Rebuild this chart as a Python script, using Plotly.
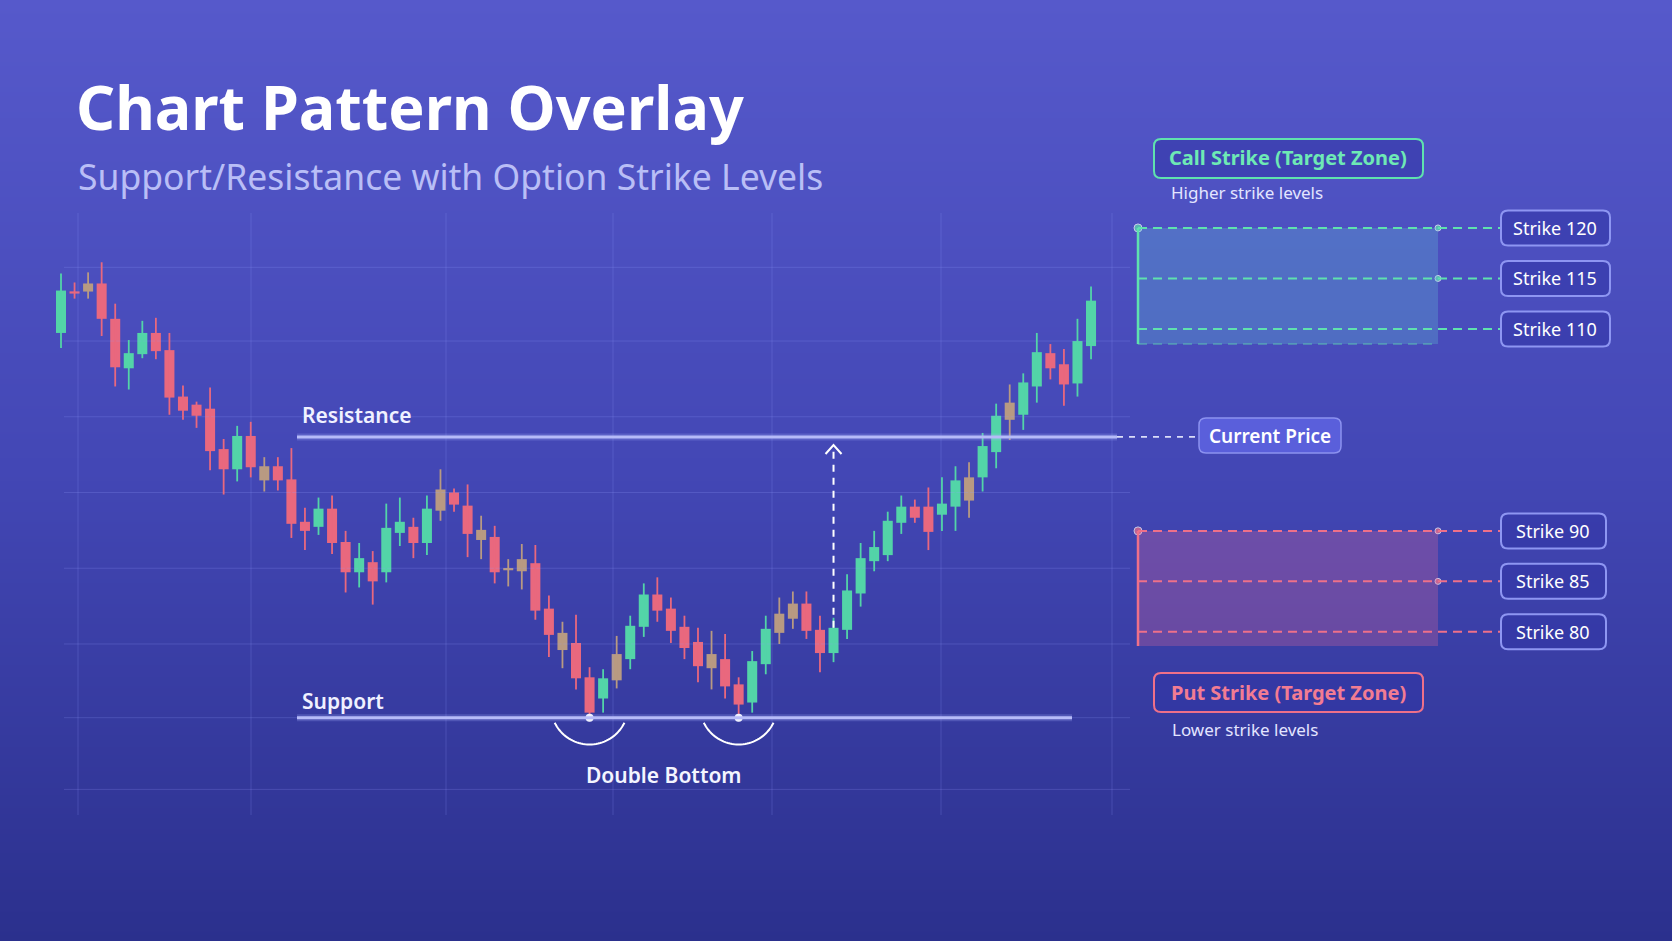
import math
import numpy as np
import plotly.graph_objects as go

W, H = 1672, 941

# ---------------- data ----------------
opens = [109.6, 113.7, 113.7, 114.5, 111.0, 106.1, 107.5, 109.6, 107.9, 103.3,
         102.5, 102.1, 98.1, 96.1, 99.4, 95.0, 96.4, 95.1, 90.9, 90.4,
         92.2, 88.9, 85.9, 86.9, 85.9, 89.8, 90.4, 88.8, 92.0, 93.8,
         92.5, 89.1, 89.4, 86.1, 86.0, 86.8, 82.3, 78.2, 78.9, 75.5,
         73.4, 75.2, 77.3, 80.5, 83.7, 82.3, 80.5, 79.0, 76.4, 77.3,
         74.8, 73.0, 76.8, 79.9, 81.3, 82.8, 80.2, 77.9, 80.2, 83.8,
         87.0, 87.6, 90.8, 92.4, 92.4, 91.6, 92.4, 93.0, 95.3, 97.8,
         101.0, 101.5, 104.3, 107.6, 106.5, 104.6, 108.3]
highs = [115.5, 114.6, 115.6, 116.6, 112.5, 108.9, 110.8, 111.1, 109.6, 104.4,
         102.8, 104.2, 99.1, 100.4, 100.8, 97.3, 97.3, 98.2, 92.3, 93.3,
         93.5, 90.0, 88.8, 88.0, 92.7, 93.3, 91.3, 93.5, 96.1, 94.2,
         94.6, 91.5, 90.5, 87.2, 88.7, 88.6, 83.6, 81.0, 81.7, 76.5,
         76.3, 79.6, 81.6, 84.8, 85.4, 83.4, 81.6, 80.4, 80.1, 79.8,
         75.5, 78.1, 81.6, 83.4, 84.0, 84.0, 81.6, 81.4, 85.7, 88.8,
         90.0, 91.9, 93.5, 93.1, 94.3, 95.3, 96.4, 96.8, 99.7, 102.6,
         104.5, 105.6, 109.6, 108.5, 108.0, 111.0, 114.2]
lows = [108.1, 113.0, 113.0, 109.3, 104.3, 104.0, 107.1, 107.0, 101.5, 101.0,
        100.2, 96.0, 93.6, 94.9, 95.3, 93.9, 94.0, 89.3, 88.1, 89.6,
        87.7, 83.9, 84.4, 82.7, 84.9, 88.5, 87.3, 87.6, 91.0, 91.9,
        87.4, 87.2, 84.8, 84.5, 84.2, 81.2, 77.5, 76.4, 74.3, 71.6,
        72.0, 74.4, 76.3, 79.5, 81.0, 78.9, 77.3, 75.0, 74.3, 73.4,
        71.6, 72.0, 75.8, 78.8, 80.3, 79.3, 76.0, 77.0, 79.3, 82.5,
        86.0, 87.0, 89.7, 90.8, 88.1, 90.0, 90.0, 91.3, 93.9, 96.2,
        99.0, 100.0, 102.7, 105.0, 102.4, 103.3, 107.0]
closes = [113.8, 113.5, 114.5, 111.0, 106.2, 107.6, 109.6, 107.8, 103.2, 101.9,
          101.4, 97.9, 96.1, 99.4, 96.3, 96.4, 95.0, 90.7, 90.0, 92.2,
          88.8, 85.9, 87.3, 85.0, 90.3, 90.9, 88.8, 92.2, 94.1, 92.6,
          89.7, 90.1, 85.9, 86.3, 87.2, 82.1, 79.7, 79.9, 75.4, 72.0,
          75.4, 77.8, 80.6, 83.7, 82.1, 80.1, 78.4, 76.6, 77.8, 74.6,
          72.8, 77.1, 80.3, 81.8, 82.8, 80.1, 77.9, 80.4, 84.1, 87.3,
          88.4, 91.0, 92.4, 91.3, 89.9, 92.7, 95.0, 95.3, 98.4, 101.4,
          102.7, 104.7, 107.7, 106.1, 104.5, 108.8, 112.8]
tones = ["up", "down", "flat", "down", "down", "up", "up", "down", "down", "down",
         "down", "down", "down", "up", "down", "flat", "down", "down", "down", "up",
         "down", "down", "up", "down", "up", "up", "down", "up", "flat", "down",
         "down", "flat", "down", "flat", "flat", "down", "down", "flat", "down", "down",
         "up", "flat", "up", "up", "down", "down", "down", "down", "flat", "down",
         "down", "up", "up", "flat", "flat", "down", "down", "up", "up", "up",
         "up", "up", "up", "down", "down", "up", "up", "flat", "up", "up",
         "flat", "up", "up", "down", "down", "up", "up"]
sessions = list(range(len(opens)))

support_level = 71.5
resistance_level = 99.3
call_strikes = [120, 115, 110]
put_strikes = [90, 85, 80]
call_zone_floor = 108.5
put_zone_floor = 78.6
grid_prices = [116.1, 108.8, 101.3, 93.8, 86.3, 78.8, 71.5, 64.4]
double_bottom_sessions = [39, 50]
breakout_session = 57

title_text = "Chart Pattern Overlay"
subtitle_text = "Support/Resistance with Option Strike Levels"

# ---------------- geometry helpers ----------------
PX0, PXS = 61.0, 13.553          # pixel of session 0, pixels per session
P_TOP, P_PER_PX = 142.573, 0.09903
X_MIN, X_MAX = -PX0 / PXS, (W - PX0) / PXS
Y_MAX, Y_MIN = P_TOP, P_TOP - P_PER_PX * H


def fx(px):
    return px / W


def fy(py):
    return 1 - py / H


def py_of_price(p):
    return (P_TOP - p) / P_PER_PX


def px_of_session(i):
    return PX0 + PXS * i


def xd(px):
    return (px - PX0) / PXS


def yd(py):
    return P_TOP - P_PER_PX * py


FONT = "Noto Sans"
GREEN = "#53D4A8"
RED = "#E9687E"
TAN = "#B89A82"
LINE_GREEN = "#5FE2AE"
LINE_RED = "#EE7089"

ZONE_L, ZONE_R, BOX_L = 1138, 1438, 1501

fig = go.Figure()

# background gradient
ys = np.linspace(Y_MIN - 3, Y_MAX + 3, 80)
zz = [[(P_TOP - v) / (P_PER_PX * H)] * 2 for v in ys]
fig.add_trace(go.Heatmap(
    x=[X_MIN - 3, X_MAX + 3], y=ys, z=zz, zmin=0, zmax=1, zsmooth="best",
    colorscale=[[0, "#5659CB"], [0.5, "#4347B5"], [1, "#2B308D"]],
    showscale=False, hoverinfo="skip"))

# grid
gx, gy = [], []
for p in grid_prices:
    gx += [xd(64), xd(1130), None]
    gy += [p, p, None]
for px in [78, 251, 446, 613, 772, 941, 1112]:
    gx += [xd(px), xd(px), None]
    gy += [yd(213), yd(815), None]
fig.add_trace(go.Scatter(x=gx, y=gy, mode="lines",
                         line=dict(color="rgba(150,160,255,0.22)", width=1),
                         hoverinfo="skip"))

# candles
colors = {"up": GREEN, "down": RED, "flat": TAN}
for tone, col in colors.items():
    idx = [i for i, t in enumerate(tones) if t == tone]
    wx, wy = [], []
    for i in idx:
        wx += [sessions[i], sessions[i], None]
        wy += [lows[i], highs[i], None]
    fig.add_trace(go.Scatter(x=wx, y=wy, mode="lines",
                             line=dict(color=col, width=1.8), hoverinfo="skip"))
for tone, col in colors.items():
    idx = [i for i, t in enumerate(tones) if t == tone]
    base = [min(opens[i], closes[i]) for i in idx]
    hgt = [max(abs(closes[i] - opens[i]), 0.22) for i in idx]
    fig.add_trace(go.Bar(x=[sessions[i] for i in idx], y=hgt, base=base,
                         width=0.74, marker=dict(color=col, line=dict(width=0)),
                         hoverinfo="skip"))

shapes = []
annotations = []


def rrect(x0, y0, x1, y1, r, fill, border, bw):
    path = (f"M {fx(x0 + r)},{fy(y0)} L {fx(x1 - r)},{fy(y0)} "
            f"Q {fx(x1)},{fy(y0)} {fx(x1)},{fy(y0 + r)} L {fx(x1)},{fy(y1 - r)} "
            f"Q {fx(x1)},{fy(y1)} {fx(x1 - r)},{fy(y1)} L {fx(x0 + r)},{fy(y1)} "
            f"Q {fx(x0)},{fy(y1)} {fx(x0)},{fy(y1 - r)} L {fx(x0)},{fy(y0 + r)} "
            f"Q {fx(x0)},{fy(y0)} {fx(x0 + r)},{fy(y0)} Z")
    shapes.append(dict(type="path", path=path, xref="paper", yref="paper",
                       fillcolor=fill, line=dict(color=border, width=bw), layer="above"))


def text(s, px, py, size, color, weight=400, xanchor="left"):
    annotations.append(dict(text=s, x=fx(px), y=fy(py), xref="paper", yref="paper",
                            xanchor=xanchor, yanchor="middle", showarrow=False,
                            font=dict(family=FONT, size=size, color=color, weight=weight)))


def hline(p, x0px, x1px, color, width, dash="solid"):
    shapes.append(dict(type="line", xref="paper", yref="y", x0=fx(x0px), x1=fx(x1px),
                       y0=p, y1=p, line=dict(color=color, width=width, dash=dash),
                       layer="above"))


# support / resistance
for lvl, x1 in [(resistance_level, 1117), (support_level, 1072)]:
    hline(lvl, 297, x1, "rgba(175,180,255,0.22)", 7)
    hline(lvl, 297, x1, "#B6BBF8", 3)
hline(resistance_level, 1117, 1199, "rgba(235,237,255,0.9)", 1.8, "6px,6px")
text("Resistance", 300, 415, 21, "#F0F1FF", 600)
text("Support", 300, 701, 21, "#F0F1FF", 600)

# double bottom arcs + dots
for s in double_bottom_sessions:
    cx = px_of_session(s)
    cy = py_of_price(support_level) - 12
    r = 38.8
    pts = []
    for k in range(41):
        t = math.radians(-64 + 128 * k / 40)
        pts.append((cx + r * math.sin(t), cy + r * math.cos(t)))
    path = "M " + " L ".join(f"{fx(a)},{fy(b)}" for a, b in pts)
    shapes.append(dict(type="path", path=path, xref="paper", yref="paper",
                       line=dict(color="#FFFFFF", width=2), layer="above"))
fig.add_trace(go.Scatter(x=double_bottom_sessions,
                         y=[support_level] * len(double_bottom_sessions),
                         mode="markers", marker=dict(color="#FFFFFF", size=8),
                         hoverinfo="skip"))
text("Double Bottom",
     sum(px_of_session(s) for s in double_bottom_sessions) / len(double_bottom_sessions),
     775, 21, "#F4F5FF", 600, "center")

# breakout arrow
bx = sessions[breakout_session]
shapes.append(dict(type="line", xref="x", yref="y", x0=bx, x1=bx,
                   y0=closes[breakout_session], y1=resistance_level - 0.9,
                   line=dict(color="#FFFFFF", width=2, dash="7px,6px"), layer="above"))
tipx, tipy = px_of_session(bx), py_of_price(resistance_level) + 8
shapes.append(dict(type="path", xref="paper", yref="paper",
                   path=f"M {fx(tipx - 8)},{fy(tipy + 9)} L {fx(tipx)},{fy(tipy)} L {fx(tipx + 8)},{fy(tipy + 9)}",
                   line=dict(color="#FFFFFF", width=2), layer="above"))

# current price box
rrect(1199, 418, 1341, 453, 7, "#5A5FDB", "#8C92F0", 1.5)
text("Current Price", 1270, 436, 19, "#FFFFFF", 600, "center")

# call zone
shapes.append(dict(type="rect", xref="paper", yref="y", x0=fx(ZONE_L), x1=fx(ZONE_R),
                   y0=call_zone_floor, y1=max(call_strikes),
                   fillcolor="rgba(100,200,215,0.27)", line=dict(width=0), layer="above"))
hline(call_zone_floor, ZONE_L, ZONE_R, "rgba(95,226,174,0.5)", 1.5, "9px,6px")
for s in call_strikes:
    hline(s, ZONE_L, BOX_L, LINE_GREEN, 2, "9px,6px")
shapes.append(dict(type="line", xref="paper", yref="y", x0=fx(ZONE_L), x1=fx(ZONE_L),
                   y0=call_zone_floor, y1=max(call_strikes),
                   line=dict(color=LINE_GREEN, width=2.5), layer="above"))

# put zone
shapes.append(dict(type="rect", xref="paper", yref="y", x0=fx(ZONE_L), x1=fx(ZONE_R),
                   y0=put_zone_floor, y1=max(put_strikes),
                   fillcolor="rgba(240,110,150,0.26)", line=dict(width=0), layer="above"))
for s in put_strikes:
    hline(s, ZONE_L, BOX_L, LINE_RED, 2, "9px,6px")
shapes.append(dict(type="line", xref="paper", yref="y", x0=fx(ZONE_L), x1=fx(ZONE_L),
                   y0=put_zone_floor, y1=max(put_strikes),
                   line=dict(color=LINE_RED, width=2.5), layer="above"))

# zone dots
zx = [xd(ZONE_L), xd(ZONE_R), xd(ZONE_R), xd(ZONE_L), xd(ZONE_R), xd(ZONE_R)]
zy = [call_strikes[0], call_strikes[0], call_strikes[1], put_strikes[0], put_strikes[0], put_strikes[1]]
zc = [LINE_GREEN] * 3 + [LINE_RED] * 3
fig.add_trace(go.Scatter(x=zx, y=zy, mode="markers",
                         marker=dict(color=zc, size=[8, 6, 6, 8, 6, 6]), hoverinfo="skip"))

# strike boxes
for s in call_strikes:
    c = py_of_price(s)
    rrect(BOX_L, c - 17.5, 1610, c + 17.5, 7, "rgba(50,52,165,0.55)", "#8E96F2", 2)
    text(f"Strike {s}", 1555, c, 18, "#FFFFFF", 400, "center")
for s in put_strikes:
    c = py_of_price(s)
    rrect(BOX_L, c - 17.5, 1606, c + 17.5, 7, "rgba(50,52,165,0.55)", "#8E96F2", 2)
    text(f"Strike {s}", 1553, c, 18, "#FFFFFF", 400, "center")

# zone headers
rrect(1154, 139, 1423, 178, 7, "rgba(50,52,165,0.55)", LINE_GREEN, 2)
text("Call Strike (Target Zone)", 1288, 158, 20, "#6EE9B5", 700, "center")
text("Higher strike levels", 1169, 193, 17, "#E3E5FF")
rrect(1154, 673, 1423, 712, 7, "rgba(50,52,165,0.55)", LINE_RED, 2)
text("Put Strike (Target Zone)", 1288, 692, 20, "#F27C92", 700, "center")
text("Lower strike levels", 1170, 729, 17, "#E3E5FF")

# titles
text(title_text, 74, 107, 61, "#FFFFFF", 700)
text(subtitle_text, 76, 176, 35.5, "#B9BEF6", 400)

fig.update_layout(
    width=W, height=H, margin=dict(l=0, r=0, t=0, b=0),
    paper_bgcolor="#4347B5", plot_bgcolor="rgba(0,0,0,0)",
    barmode="overlay", showlegend=False, hovermode=False,
    xaxis=dict(range=[X_MIN, X_MAX], visible=False, fixedrange=True),
    yaxis=dict(range=[Y_MIN, Y_MAX], visible=False, fixedrange=True),
    shapes=shapes, annotations=annotations,
)

fig.write_html("out.html", config={"displayModeBar": False},
               post_script="document.body.style.margin='0';document.body.style.overflow='hidden';")
